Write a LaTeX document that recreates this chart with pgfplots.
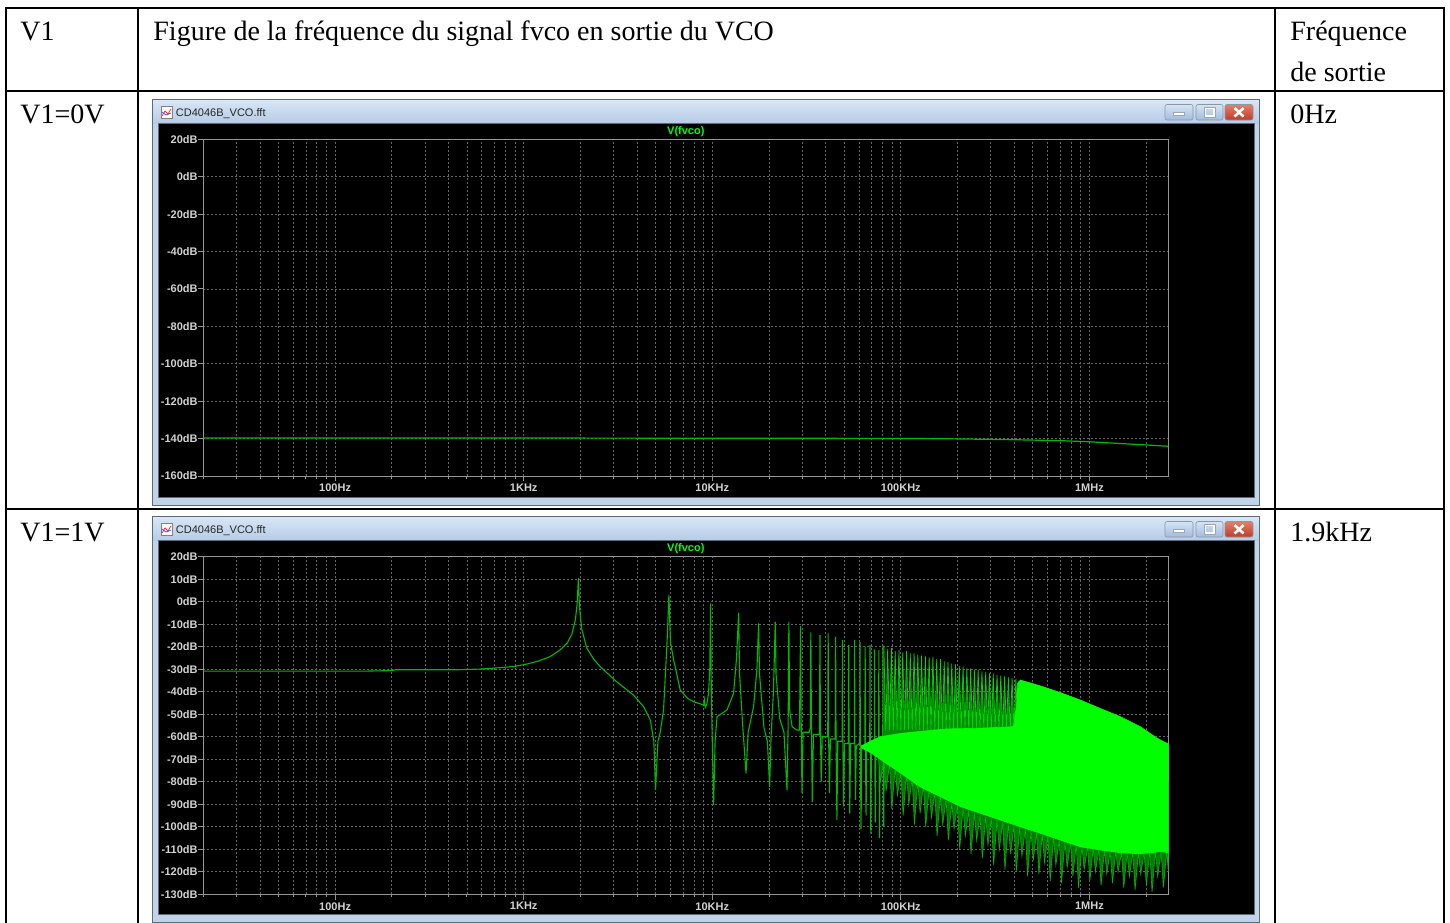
\documentclass[border=0pt]{standalone}
\usepackage{fontspec}
\setmainfont{Liberation Serif}
\newfontfamily\uifont{Liberation Sans}
\usepackage{pgfplots}
\pgfplotsset{compat=1.18}

\definecolor{axisgray}{RGB}{150,150,150}
\definecolor{gridgray}{RGB}{100,100,100}
\definecolor{labelgray}{RGB}{210,210,210}
\definecolor{trace}{RGB}{0,185,0}
\definecolor{tracelight}{RGB}{0,215,0}
\definecolor{tracebright}{RGB}{0,255,0}
\definecolor{tracedark}{RGB}{0,140,0}
\definecolor{tracemid}{RGB}{0,125,0}
\definecolor{titletop}{RGB}{216,230,245}
\definecolor{titlebot}{RGB}{182,204,230}
\definecolor{framefill}{RGB}{192,211,233}
\definecolor{frameline}{RGB}{92,106,122}
\definecolor{btntop}{RGB}{214,228,244}
\definecolor{btnbot}{RGB}{160,188,222}
\definecolor{closetop}{RGB}{226,128,108}
\definecolor{closebot}{RGB}{190,60,40}

% window chrome of an LTspice plot pane, drawn in pixel units
\newcommand\ltwindow[1]{%
  \begin{scope}[shift={(0,#1)}]
    \fill[framefill] (152,99) rectangle (1260,505);
    \shade[top color=titletop, bottom color=titlebot] (153,100) rectangle (1259,123);
    \draw[frameline, line width=0.5pt] (152.5,99.5) rectangle (1259.5,505);
    \fill[black] (159,124) rectangle (1254,497);
    \draw[frameline, line width=0.4pt] (158.5,123.5) rectangle (1254.5,497.5);
    \fill[white] (161,106) rectangle (172,118);
    \draw[gray, line width=0.3pt] (161,106) rectangle (172,118);
    \draw[red!80, line width=0.4pt] (162,116)--(165,111)--(168,114)--(171,109);
    \draw[blue!70, line width=0.4pt] (162,112)--(166,115)--(171,113);
    \node[anchor=west, inner sep=0pt, font=\uifont\fontsize{5.5}{6}\selectfont, text=black!85]
      at (175.5,113.5) {CD4046B\_VCO.fft};
    \shade[top color=btntop, bottom color=btnbot, rounded corners=1pt] (1165,104.5) rectangle (1193,120);
    \draw[frameline!70, line width=0.3pt, rounded corners=1pt] (1165,104.5) rectangle (1193,120);
    \fill[white] (1173.5,112.5) rectangle (1184.5,115.5);
    \draw[frameline!60, line width=0.2pt] (1173.5,112.5) rectangle (1184.5,115.5);
    \shade[top color=btntop, bottom color=btnbot, rounded corners=1pt] (1196,104.5) rectangle (1223,120);
    \draw[frameline!70, line width=0.3pt, rounded corners=1pt] (1196,104.5) rectangle (1223,120);
    \draw[white, line width=0.9pt] (1205,108.5) rectangle (1214,116);
    \draw[frameline!60, line width=0.2pt] (1204,107.5) rectangle (1215,117);
    \shade[top color=closetop, bottom color=closebot, rounded corners=1pt] (1225,104.5) rectangle (1253,120);
    \draw[frameline!70, line width=0.3pt, rounded corners=1pt] (1225,104.5) rectangle (1253,120);
    \draw[white, line width=1.3pt] (1234.5,108)--(1243.5,116.5) (1234.5,116.5)--(1243.5,108);
  \end{scope}%
}

\begin{document}
\begin{tikzpicture}
\begin{scope}[x=0.5pt, y=-0.5pt]
  \useasboundingbox (0,0) rectangle (1450,922);
  \ltwindow{0}
  \ltwindow{417}
  % table rules
  \draw[black, line width=1pt]
    (5,7.7) -- (1444.7,7.7)
    (5,91) -- (1444.7,91)
    (5,508.7) -- (1444.7,508.7)
    (6,7.2) -- (6,925)
    (137.7,7.2) -- (137.7,925)
    (1275.3,7.2) -- (1275.3,925)
    (1443.7,7.2) -- (1443.7,925);
  % table text
  \node[anchor=base west, inner sep=0pt, font=\fontsize{14}{16}\selectfont] at (20,40.7) {V1};
  \node[anchor=base west, inner sep=0pt, font=\fontsize{14}{16}\selectfont] at (153,40.7) {Figure de la fréquence du signal fvco en sortie du VCO};
  \node[anchor=base west, inner sep=0pt, font=\fontsize{14}{16}\selectfont] at (1290,40.7) {Fréquence};
  \node[anchor=base west, inner sep=0pt, font=\fontsize{14}{16}\selectfont] at (1290,81.7) {de sortie};
  \node[anchor=base west, inner sep=0pt, font=\fontsize{14}{16}\selectfont] at (20,123.3) {V1=0V};
  \node[anchor=base west, inner sep=0pt, font=\fontsize{14}{16}\selectfont] at (1290,123.3) {0Hz};
  \node[anchor=base west, inner sep=0pt, font=\fontsize{14}{16}\selectfont] at (20,541.3) {V1=1V};
  \node[anchor=base west, inner sep=0pt, font=\fontsize{14}{16}\selectfont] at (1290,541.3) {1.9kHz};
  \coordinate (A1) at (203.3,476);
  \coordinate (A2) at (203.3,894.3);
\end{scope}

% spectrum with V1 = 0 V
\begin{axis}[at={(A1)}, anchor=south west,
  scale only axis, width=482.5pt, height=168.35pt,
  xmode=log, xmin=20, xmax=2.62e6,
  ymin=-160, ymax=20,
  axis line style={draw=axisgray, line width=0.5pt},
  grid=both,
  major grid style={draw=gridgray, line width=0.4pt, dash pattern=on 1pt off 1pt},
  minor grid style={draw=gridgray, line width=0.4pt, dash pattern=on 1pt off 1pt},
  xtick={100,1000,10000,100000,1000000},
  xticklabels={100Hz,1KHz,10KHz,100KHz,1MHz},
  minor xtick={20,30,40,50,60,70,80,90,200,300,400,500,600,700,800,900,2000,3000,4000,5000,6000,7000,8000,9000,20000,30000,40000,50000,60000,70000,80000,90000,200000,300000,400000,500000,600000,700000,800000,900000,2000000},
  ytick={-160,-140,-120,-100,-80,-60,-40,-20,0,20},
  yticklabels={-160dB,-140dB,-120dB,-100dB,-80dB,-60dB,-40dB,-20dB,0dB,20dB},
  xtick pos=bottom, ytick pos=left, tick align=outside,
  major tick length=2.6pt, minor tick length=1.4pt,
  tick style={draw=axisgray, line width=0.5pt},
  tick label style={font=\uifont\bfseries\fontsize{5.5}{6}\selectfont, text=labelgray},
  xticklabel style={yshift=2.1pt},
  yticklabel style={xshift=3.3pt},
  title={V(fvco)},
  title style={at={(0.5,1)}, anchor=base, yshift=-3.6pt, inner sep=0pt, font=\uifont\bfseries\fontsize{5.5}{6}\selectfont, text=tracebright}]
  \addplot[trace, line width=0.6pt] coordinates {
    (20,-139.7) (1000,-139.7) (10000,-139.8) (100000,-139.9) (180000,-140.1)
    (400000,-140.6) (700000,-141.1) (1000000,-141.7) (1500000,-142.7)
    (2000000,-143.4) (2620000,-144.1)};
\end{axis}

% spectrum with V1 = 1 V
\begin{axis}[at={(A2)}, anchor=south west,
  scale only axis, width=482.5pt, height=168.8pt,
  xmode=log, xmin=20, xmax=2.62e6,
  ymin=-130, ymax=20,
  axis line style={draw=axisgray, line width=0.5pt},
  grid=both,
  major grid style={draw=gridgray, line width=0.4pt, dash pattern=on 1pt off 1pt},
  minor grid style={draw=gridgray, line width=0.4pt, dash pattern=on 1pt off 1pt},
  xtick={100,1000,10000,100000,1000000},
  xticklabels={100Hz,1KHz,10KHz,100KHz,1MHz},
  minor xtick={20,30,40,50,60,70,80,90,200,300,400,500,600,700,800,900,2000,3000,4000,5000,6000,7000,8000,9000,20000,30000,40000,50000,60000,70000,80000,90000,200000,300000,400000,500000,600000,700000,800000,900000,2000000},
  ytick={-130,-120,-110,-100,-90,-80,-70,-60,-50,-40,-30,-20,-10,0,10,20},
  yticklabels={-130dB,-120dB,-110dB,-100dB,-90dB,-80dB,-70dB,-60dB,-50dB,-40dB,-30dB,-20dB,-10dB,0dB,10dB,20dB},
  xtick pos=bottom, ytick pos=left, tick align=outside,
  major tick length=2.6pt, minor tick length=1.4pt,
  tick style={draw=axisgray, line width=0.5pt},
  tick label style={font=\uifont\bfseries\fontsize{5.5}{6}\selectfont, text=labelgray},
  xticklabel style={yshift=2.1pt},
  yticklabel style={xshift=3.3pt},
  title={V(fvco)},
  title style={at={(0.5,1)}, anchor=base, yshift=-3.6pt, inner sep=0pt, font=\uifont\bfseries\fontsize{5.5}{6}\selectfont, text=tracebright}]
  % dense harmonic band, upper part
  \addplot[fill=tracedark, draw=none] coordinates {
    (8.128e4,-19.5) (8.318e4,-57) (8.511e4,-21) (8.710e4,-57) (8.913e4,-20.5) (9.120e4,-57)
    (9.333e4,-22) (9.550e4,-57) (9.772e4,-21.5) (1.000e5,-57) (1.023e5,-22.5) (1.047e5,-57)
    (1.072e5,-22) (1.096e5,-57) (1.122e5,-23) (1.148e5,-57) (1.175e5,-22.8) (1.202e5,-57)
    (1.230e5,-23.5) (1.259e5,-57) (1.288e5,-24) (1.318e5,-57) (1.349e5,-24.2) (1.380e5,-57)
    (1.413e5,-24.8) (1.445e5,-57) (1.479e5,-24.5) (1.514e5,-57) (1.549e5,-25.5) (1.585e5,-57)
    (1.622e5,-25.5) (1.660e5,-57) (1.698e5,-26.5) (1.738e5,-57) (1.778e5,-26.8) (1.820e5,-57)
    (1.862e5,-27.5) (1.905e5,-57) (1.950e5,-27.8) (1.995e5,-57) (2.042e5,-28.5) (2.089e5,-57)
    (2.138e5,-28.8) (2.188e5,-57) (2.239e5,-29.5) (2.291e5,-57) (2.344e5,-29.6) (2.399e5,-57)
    (2.455e5,-30.2) (2.512e5,-57) (2.570e5,-30.3) (2.630e5,-57) (2.692e5,-31) (2.754e5,-57)
    (2.818e5,-31.2) (2.884e5,-57) (2.951e5,-31.8) (3.020e5,-57) (3.090e5,-32) (3.162e5,-57)
    (3.236e5,-32.5) (3.311e5,-57) (3.388e5,-32.8) (3.467e5,-57) (3.548e5,-33.2) (3.631e5,-57)
    (3.715e5,-33.5) (3.802e5,-57) (3.890e5,-34) (3.981e5,-57) (4.074e5,-34.2) (4.169e5,-57)
    (4.169e5,-62) (8.128e4,-62)} -- cycle;
  \addplot[tracelight, line width=0.35pt] coordinates {
    (8.128e4,-19.5) (8.318e4,-57) (8.511e4,-21) (8.710e4,-57) (8.913e4,-20.5) (9.120e4,-57)
    (9.333e4,-22) (9.550e4,-57) (9.772e4,-21.5) (1.000e5,-57) (1.023e5,-22.5) (1.047e5,-57)
    (1.072e5,-22) (1.096e5,-57) (1.122e5,-23) (1.148e5,-57) (1.175e5,-22.8) (1.202e5,-57)
    (1.230e5,-23.5) (1.259e5,-57) (1.288e5,-24) (1.318e5,-57) (1.349e5,-24.2) (1.380e5,-57)
    (1.413e5,-24.8) (1.445e5,-57) (1.479e5,-24.5) (1.514e5,-57) (1.549e5,-25.5) (1.585e5,-57)
    (1.622e5,-25.5) (1.660e5,-57) (1.698e5,-26.5) (1.738e5,-57) (1.778e5,-26.8) (1.820e5,-57)
    (1.862e5,-27.5) (1.905e5,-57) (1.950e5,-27.8) (1.995e5,-57) (2.042e5,-28.5) (2.089e5,-57)
    (2.138e5,-28.8) (2.188e5,-57) (2.239e5,-29.5) (2.291e5,-57) (2.344e5,-29.6) (2.399e5,-57)
    (2.455e5,-30.2) (2.512e5,-57) (2.570e5,-30.3) (2.630e5,-57) (2.692e5,-31) (2.754e5,-57)
    (2.818e5,-31.2) (2.884e5,-57) (2.951e5,-31.8) (3.020e5,-57) (3.090e5,-32) (3.162e5,-57)
    (3.236e5,-32.5) (3.311e5,-57) (3.388e5,-32.8) (3.467e5,-57) (3.548e5,-33.2) (3.631e5,-57)
    (3.715e5,-33.5) (3.802e5,-57) (3.890e5,-34) (3.981e5,-57) (4.074e5,-34.2) (4.169e5,-57)};
  % FFT trace: flat floor, fundamental and resolved odd harmonics
  \addplot[trace, line width=0.55pt] coordinates {
    (20,-30.8) (150,-30.8) (200,-30.6) (210,-30.2) (300,-30.2) (450,-30.2) (600,-29.9)
    (750,-29.3) (900,-28.7) (1050,-27.6) (1200,-26.3) (1380,-24.4) (1550,-21.6) (1700,-18.4)
    (1800,-14.5) (1880,-8) (1920,-1) (1950,10.5) (1975,-2) (2030,-12) (2160,-20.6)
    (2350,-25.5) (2550,-28.9) (2800,-32) (3100,-35.5) (3450,-38.5) (3810,-41.4) (4325,-46.6)
    (4692,-52.6) (4900,-62) (5002,-83.7) (5150,-62) (5297,-58) (5517,-48) (5754,-18.4)
    (5888,3) (6000,-18) (6240,-25.9) (6764,-39.2) (7400,-43) (7961,-44.4) (8993,-45.9)
    (9080,-43.5) (9180,-47) (9350,-45.5) (9550,-41) (9700,-30) (9797,-0.7) (9880,-40)
    (10160,-90.3) (10350,-62) (10600,-51.1) (11300,-49.5) (11970,-48.1) (12970,-40.7)
    (13450,-25) (13795,-4.9) (13950,-32) (14500,-55) (15100,-76.3) (15500,-58) (16560,-46.6)
    (17250,-30) (17610,-9.6) (17800,-32) (18800,-56) (19600,-62) (20150,-82.2) (20500,-60)
    (21100,-40) (21580,-8.9) (21780,-32) (22800,-52) (24000,-58) (24890,-83.7) (25250,-55)
    (25480,-8.9) (25700,-48) (26500,-55.5) (28000,-57) (29000,-57) (29400,-10.8) (29600,-52)
    (29900,-84.9) (30300,-58) (32600,-58) (33100,-56) (33320,-13.6) (33550,-54) (33900,-88.9)
    (34400,-59) (36700,-59) (37000,-59) (37240,-14.8) (37450,-56) (37800,-80) (38300,-60)
    (40600,-60) (40950,-60) (41160,-14.1) (41380,-58) (41800,-85) (42300,-61) (44600,-61)
    (44880,-61) (45080,-15.6) (45300,-59) (45800,-97) (46300,-62) (48600,-62) (48800,-62)
    (49000,-17) (49200,-60) (49700,-91) (50200,-63) (52500,-63) (52720,-62) (52920,-19.3)
    (53120,-61) (53600,-94) (54100,-63) (56400,-63) (56640,-63) (56840,-17) (57040,-62)
    (57500,-88) (58000,-64) (60300,-63) (60560,-63) (60760,-17.8) (60960,-62) (61500,-101)
    (62000,-64) (64200,-64) (64480,-64) (64680,-20) (64880,-63) (65400,-95) (65900,-64)
    (68100,-64) (68400,-64) (68600,-19.3) (68800,-63) (69300,-103) (69800,-65) (72000,-65)
    (72320,-65) (72520,-21.2) (72720,-64) (73200,-98) (73700,-66) (76000,-66) (76240,-66)
    (76440,-21.5) (76640,-65) (77100,-105) (77600,-67) (80000,-67) (80160,-67) (80360,-19.5)
    (80560,-66) (81100,-100) (81600,-68)};
  % lower fringe of the band
  \addplot[fill=tracemid, draw=trace, line width=0.3pt] coordinates {
    (7.586e4,-68) (7.798e4,-80) (8.128e4,-70) (8.356e4,-84) (8.710e4,-72) (8.954e4,-92)
    (9.333e4,-74) (9.594e4,-86) (1.000e5,-76) (1.028e5,-95) (1.072e5,-77) (1.102e5,-90)
    (1.148e5,-78.5) (1.180e5,-99) (1.230e5,-80) (1.265e5,-94) (1.318e5,-81.5) (1.355e5,-100)
    (1.413e5,-83) (1.452e5,-96) (1.514e5,-85) (1.556e5,-104) (1.622e5,-86.5) (1.667e5,-99)
    (1.738e5,-88) (1.786e5,-106) (1.862e5,-89.5) (1.914e5,-101) (1.995e5,-90.5) (2.051e5,-110)
    (2.138e5,-91.5) (2.198e5,-104) (2.291e5,-93) (2.355e5,-112) (2.455e5,-94) (2.523e5,-106)
    (2.630e5,-95) (2.704e5,-114) (2.818e5,-95.5) (2.897e5,-108) (3.020e5,-96.5) (3.105e5,-117)
    (3.236e5,-97) (3.327e5,-110) (3.467e5,-98) (3.565e5,-119) (3.715e5,-99) (3.819e5,-112)
    (3.981e5,-99.5) (4.093e5,-120) (4.266e5,-100.5) (4.385e5,-113) (4.571e5,-101) (4.699e5,-122)
    (4.898e5,-102) (5.035e5,-115) (5.248e5,-102.5) (5.395e5,-121) (5.623e5,-103.5) (5.781e5,-116)
    (6.026e5,-104) (6.194e5,-124) (6.457e5,-105) (6.637e5,-117) (6.918e5,-106) (7.112e5,-125)
    (7.413e5,-106.5) (7.621e5,-118) (7.943e5,-107) (8.166e5,-122) (8.511e5,-108) (8.750e5,-127)
    (9.120e5,-108.5) (9.376e5,-119) (9.772e5,-109) (1.005e6,-124) (1.047e6,-109.5) (1.076e6,-120)
    (1.122e6,-110) (1.153e6,-126) (1.202e6,-110.5) (1.236e6,-121) (1.288e6,-111) (1.324e6,-125)
    (1.380e6,-111) (1.419e6,-120) (1.479e6,-111.5) (1.521e6,-127) (1.585e6,-111.5) (1.629e6,-122)
    (1.698e6,-111.5) (1.746e6,-128) (1.820e6,-111.5) (1.871e6,-121) (1.950e6,-111.5) (2.004e6,-126)
    (2.089e6,-111) (2.148e6,-129) (2.239e6,-111) (2.301e6,-122) (2.399e6,-111) (2.466e6,-127)
    (2.570e6,-111) (2.618e6,-120) (2.618e6,-80) (1.000e5,-62) (7.586e4,-62)} -- cycle;
  % solid band of unresolved harmonics
  \addplot[fill=tracebright, draw=tracebright, line width=0.3pt] coordinates {
    (6.2e4,-64) (6.89e4,-62) (7.76e4,-60) (1.0e5,-58.5) (1.3e5,-57.5) (1.76e5,-56.5) (2.64e5,-56.2)
    (3.96e5,-55.5) (4.12e5,-45) (4.15e5,-36.3) (4.3e5,-34.8) (5.5e5,-37.4) (7.02e5,-40.4)
    (8.96e5,-43.7) (1.14e6,-47.4) (1.46e6,-51.1) (1.86e6,-55.5) (2.29e6,-60.7) (2.62e6,-63.2)
    (2.62e6,-111.5) (2.38e6,-111) (1.86e6,-112) (1.46e6,-111.5) (1.14e6,-110.3) (8.96e5,-108.9)
    (7.02e5,-105.9) (5.5e5,-102.9) (4.3e5,-100) (3.37e5,-97) (2.64e5,-94) (2.07e5,-91)
    (1.62e5,-86.6) (1.26e5,-82.2) (1.0e5,-76.2) (7.76e4,-70) (6.89e4,-67) (6.2e4,-65)} -- cycle;
\end{axis}
\end{tikzpicture}
\end{document}
